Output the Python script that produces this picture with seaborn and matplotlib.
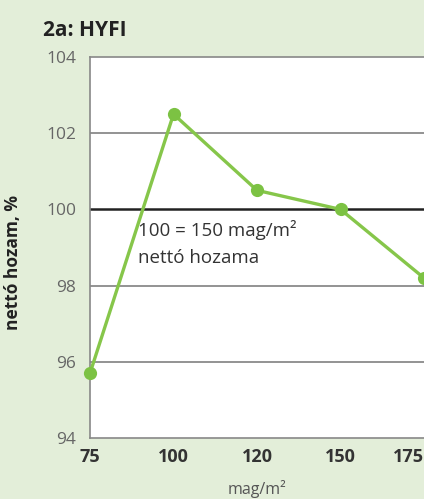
import numpy as np
import pandas as pd
import matplotlib.pyplot as plt
import seaborn as sns

# data
seed_rates = ['75', '100', '120', '150', '175']
net_yield = [95.7, 102.5, 100.5, 100.0, 98.2]
y_ticks = [94, 96, 98, 100, 102, 104]

df = pd.DataFrame({'rate': seed_rates, 'yield': net_yield})
df['pos'] = np.arange(len(df))

sns.set_style('white')
plt.rcParams['font.family'] = ['Open Sans', 'DejaVu Sans']

bg = '#e3eed9'
green = '#86c64a'

fig = plt.figure(figsize=(4.24, 4.99), dpi=100, facecolor=bg)
ax = fig.add_axes([90 / 424, 1 - 438 / 499, 334 / 424, 381 / 499])
ax.set_facecolor('white')

# grid lines
for v in [96, 98, 102]:
    ax.axhline(v, color='#808080', lw=1.2, zorder=1)
ax.axhline(100, color='#222222', lw=1.8, zorder=1)

sns.lineplot(data=df, x='pos', y='yield', ax=ax, color=green, lw=2.4,
             marker='o', markersize=9.5, markeredgewidth=0,
             markerfacecolor='#7cc243', zorder=3, clip_on=False)

ax.set_xlim(0, 4.0)
ax.set_ylim(94, 104)
ax.set_yticks(y_ticks)
ax.set_yticklabels([str(t) for t in y_ticks], color='#666666', fontsize=12.5)
ax.set_xticks(df['pos'])
ax.set_xticklabels(seed_rates, fontsize=13, fontweight='bold', color='#333333')
ax.get_xticklabels()[-1].set_ha('right')
ax.tick_params(axis='both', length=0, pad=7)
ax.tick_params(axis='y', pad=10)

for s in ['left', 'bottom', 'top']:
    ax.spines[s].set_color('#888888')
    ax.spines[s].set_linewidth(1.2)
ax.spines['right'].set_visible(False)

ax.set_xlabel('mag/m²', fontsize=11.5, color='#555555', labelpad=10)
ax.set_ylabel('nettó hozam, %', fontsize=12.5, fontweight='bold', color='#222222')
ax.yaxis.set_label_coords(-68 / 334, 0.46)

ax.text(0.57, 99.73, '100 = 150 mag/m²\nnettó hozama', fontsize=13.5, color='#333333',
        va='top', ha='left', linespacing=1.65)

fig.text(43 / 424, 1 - 30 / 499, '2a: HYFI', fontsize=15, fontweight='bold',
         color='#222222', va='center', ha='left')

fig.savefig('out.png', dpi=100, facecolor=bg)
